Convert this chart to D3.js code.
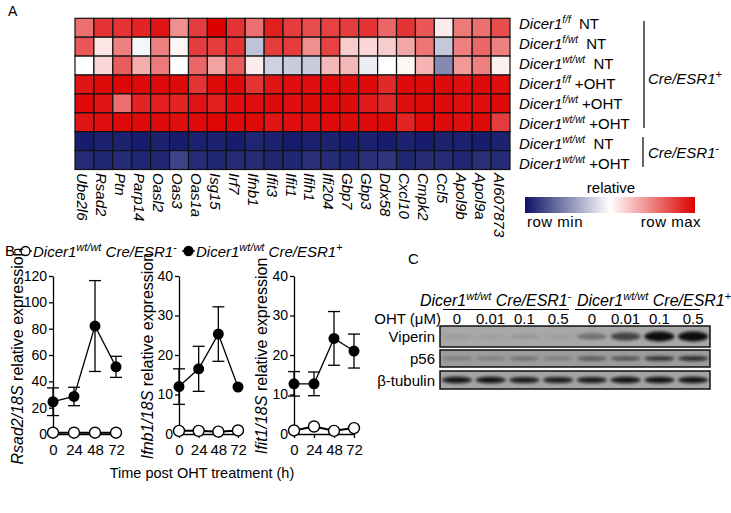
<!DOCTYPE html>
<meta charset="utf-8">
<style>
body { margin: 0; background: #fff; }
svg { font-family: "Liberation Sans", Arial, sans-serif; }
.it { font-style: italic; }
</style>
<svg width="731" height="513"></svg>
<script src="https://cdn.jsdelivr.net/npm/d3@7"></script>
<script>
// ---- panel A data ----
var genes = ["Ube2l6","Rsad2","Ptn","Parp14","Oasl2","Oas3","Oas1a","Isg15","Irf7","Ifnb1","Ifit3","Ifit1",
  "Ifih1","Ifi204","Gbp7","Gbp3","Ddx58","Cxcl10","Cmpk2","Ccl5","Apol9b","Apol9a","AI607873"];
var rowGenotype = ["f/f","f/wt","wt/wt","f/f","f/wt","wt/wt","wt/wt","wt/wt"];
var rowTreatment = ["NT","NT","NT","+OHT","+OHT","+OHT","NT","+OHT"];
// relative expression, 0 = row min, 1 = row max
var heat = [
  [0.78,0.9,0.9,0.93,0.96,0.72,0.88,1.0,0.9,0.78,0.94,0.88,0.85,0.87,0.88,0.9,0.8,0.9,0.83,0.54,0.76,0.78,0.85],
  [0.83,0.55,0.75,0.48,0.75,0.52,0.88,0.88,0.9,0.37,0.88,0.88,0.72,0.87,0.6,0.58,0.6,0.67,0.77,0.38,0.75,0.8,0.75],
  [0.5,0.58,0.82,0.66,0.76,0.5,0.8,0.68,0.82,0.54,0.4,0.39,0.39,0.64,0.64,0.46,0.5,0.52,0.65,0.25,0.7,0.75,0.53],
  [0.96,0.98,0.99,0.98,0.98,0.98,0.9,0.98,0.98,0.9,0.96,0.97,0.97,0.98,0.98,0.98,0.92,0.98,0.98,0.98,0.97,0.98,0.97],
  [0.98,0.96,0.78,0.93,0.94,0.93,0.96,0.94,0.97,0.97,0.98,0.97,0.98,0.98,0.98,0.95,0.92,0.97,0.98,0.98,0.97,0.97,0.98],
  [0.96,0.97,0.98,0.98,0.98,0.97,0.98,0.99,0.98,0.98,0.96,0.97,0.97,0.98,0.98,0.98,0.98,0.93,0.98,0.98,0.97,0.98,0.88],
  [0.02,0.03,0.03,0.02,0.03,0.02,0.03,0.03,0.02,0.04,0.03,0.02,0.03,0.03,0.02,0.03,0.02,0.03,0.02,0.03,0.03,0.02,0.03],
  [0.05,0.04,0.05,0.04,0.04,0.1,0.05,0.04,0.05,0.05,0.04,0.04,0.06,0.05,0.04,0.06,0.07,0.04,0.05,0.05,0.04,0.06,0.05]
];

// ---- panel B data ----
var hours = [0, 24, 48, 72];
var rsad2Pos = [24.5, 28.5, 82, 51], rsad2PosErr = [10.5, 7, 34.5, 8];
var rsad2Neg = [1, 1, 1, 1];
var ifnb1Pos = [12, 16.5, 25.3, 11.9], ifnb1PosErr = [4.5, 5.7, 6.9, 0];
var ifnb1Neg = [0.8, 0.8, 0.6, 0.9];
var ifit1Pos = [12.7, 12.7, 24.2, 21], ifit1PosErr = [3.1, 3, 6.8, 4.3];
var ifit1Neg = [0.9, 1.9, 0.8, 1.5];

// ---- panel C data ----
var ohtDose = ["0","0.01","0.1","0.5","0","0.01","0.1","0.5"];
var viperin = [0.08,0.06,0.1,0.06,0.35,0.65,1,1];
var p56 = [0.25,0.25,0.35,0.25,0.5,0.55,0.75,0.8];
var tubulin = [0.95,0.95,0.9,0.9,0.9,0.95,0.95,0.95];

var svg = d3.select("svg");
var color = d3.scaleLinear().domain([0, 0.5, 1]).range(["#0d1466", "#ffffff", "#dd0000"]);

// ================= A =================
svg.append("text").attr("x", 8).attr("y", 16).style("font-size", "14px").text("A");

var hx = d3.scaleBand().domain(genes).range([75, 510]);
var hy = d3.scaleBand().domain(d3.range(8)).range([18.3, 169.5]);

var rows = svg.append("g").selectAll("g").data(heat).enter().append("g");
rows.selectAll("rect")
  .data(function(d, i) { return d.map(function(v, j) { return {v: v, g: genes[j], r: i}; }); })
  .enter().append("rect")
  .attr("x", function(d) { return hx(d.g); })
  .attr("y", function(d) { return hy(d.r); })
  .attr("width", hx.bandwidth())
  .attr("height", hy.bandwidth())
  .attr("fill", function(d) { return color(d.v); })
  .attr("stroke", "#111")
  .attr("stroke-width", 1.2);

// gene labels, rotated
svg.append("g").selectAll("text").data(genes).enter().append("text")
  .attr("class", "it")
  .attr("transform", function(d) { return "translate(" + (hx(d) + hx.bandwidth() / 2 - 7) + ",173) rotate(90)"; })
  .style("font-size", "15px")
  .text(function(d) { return d; });

// row labels
var rl = svg.append("g").selectAll("text").data(rowGenotype).enter().append("text")
  .attr("x", 519)
  .attr("y", function(d, i) { return 29 + i * 20; })
  .style("font-size", "15px");
rl.append("tspan").attr("class", "it").text("Dicer1");
rl.append("tspan").attr("class", "it").attr("dy", -6).style("font-size", "10px").text(function(d) { return d; });
rl.append("tspan").attr("dy", 6).text(function(d, i) { return (rowTreatment[i] == "NT" ? "\u00a0\u00a0" : "\u00a0") + rowTreatment[i]; });

// group brackets
var groups = [{name: "Cre/ESR1", sign: "+", y1: 21, y2: 128, ty: 84},
              {name: "Cre/ESR1", sign: "-", y1: 137, y2: 167, ty: 158}];
groups.forEach(function(g, i) {
  svg.append("line").attr("x1", 644 - i).attr("x2", 644 - i).attr("y1", g.y1).attr("y2", g.y2)
    .attr("stroke", "#000").attr("stroke-width", 1.2);
  var t = svg.append("text").attr("x", 648).attr("y", g.ty).style("font-size", "15px");
  t.append("tspan").attr("class", "it").text(g.name);
  t.append("tspan").attr("dy", -6).style("font-size", "11px").text(g.sign);
});

// colour legend
var defs = svg.append("defs");
var grad = defs.append("linearGradient").attr("id", "rel");
[0, 0.5, 1].forEach(function(s) {
  grad.append("stop").attr("offset", s * 100 + "%").attr("stop-color", color(s));
});
svg.append("rect").attr("x", 525).attr("y", 197).attr("width", 170).attr("height", 16).attr("fill", "url(#rel)");
svg.append("text").attr("x", 611).attr("y", 193).attr("text-anchor", "middle").style("font-size", "15px").text("relative");
svg.append("text").attr("x", 527).attr("y", 227).style("font-size", "15px").style("letter-spacing", "0.5px").text("row min");
svg.append("text").attr("x", 701).attr("y", 227).attr("text-anchor", "end").style("font-size", "15px").style("letter-spacing", "0.5px").text("row max");

// ================= B =================
svg.append("text").attr("x", 5).attr("y", 256).style("font-size", "15px").text("B");

// legend
function legendItem(x, filled, sign) {
  svg.append("line").attr("x1", x).attr("x2", x + 13).attr("y1", 251).attr("y2", 251).attr("stroke", "#000").attr("stroke-width", 1.3);
  svg.append("circle").attr("cx", x + 6.5).attr("cy", 251).attr("r", 4.5)
    .attr("fill", filled ? "#000" : "#fff").attr("stroke", "#000").attr("stroke-width", 1.3);
  var t = svg.append("text").attr("x", x + 14).attr("y", 257).style("font-size", "15px");
  t.append("tspan").attr("class", "it").text("Dicer1");
  t.append("tspan").attr("class", "it").attr("dy", -6).style("font-size", "11px").text("wt/wt");
  t.append("tspan").attr("class", "it").attr("dy", 6).text("\u00a0Cre/ESR1");
  t.append("tspan").attr("dy", -6).style("font-size", "11px").text(sign);
}
legendItem(19, false, "-");
legendItem(182, true, "+");

var charts = [
  {gene: "Rsad2", x0: 53, x1: 116, max: 120, step: 20, pos: rsad2Pos, err: rsad2PosErr, neg: rsad2Neg, lx: 23},
  {gene: "Ifnb1", x0: 179, x1: 238, max: 40, step: 10, pos: ifnb1Pos, err: ifnb1PosErr, neg: ifnb1Neg, lx: 153},
  {gene: "Ifit1", x0: 294, x1: 354, max: 40, step: 10, pos: ifit1Pos, err: ifit1PosErr, neg: ifit1Neg, lx: 267}
];

charts.forEach(function(c) {
  var x = d3.scaleLinear().domain([0, 72]).range([c.x0, c.x1]);
  var y = d3.scaleLinear().domain([0, c.max]).range([434, 276]);
  var g = svg.append("g");

  var ya = g.append("g").attr("transform", "translate(" + c.x0 + ",0)")
    .call(d3.axisLeft(y).tickValues(d3.range(0, c.max + 1, c.step)).tickSize(4).tickPadding(2).tickSizeOuter(0));
  ya.selectAll("text").style("font-size", "14px").style("font-family", "Liberation Sans, Arial, sans-serif").attr("fill", "#000");
  var xa = g.append("g").attr("transform", "translate(0,434)")
    .call(d3.axisBottom(x).tickValues(hours).tickSize(4).tickPadding(6).tickSizeOuter(0));
  xa.selectAll("text").style("font-size", "15px").style("font-family", "Liberation Sans, Arial, sans-serif").attr("fill", "#000");
  g.selectAll(".domain, .tick line").attr("stroke", "#000").attr("stroke-width", 1.3);

  var line = d3.line().x(function(d, i) { return x(hours[i]); }).y(function(d) { return y(d); });

  // error bars for Cre+
  c.pos.forEach(function(v, i) {
    if (c.err[i] <= 0) return;
    var cx = x(hours[i]);
    g.append("line").attr("x1", cx).attr("x2", cx).attr("y1", y(v - c.err[i])).attr("y2", y(v + c.err[i])).attr("stroke", "#000").attr("stroke-width", 1.3);
    [v - c.err[i], v + c.err[i]].forEach(function(e) {
      g.append("line").attr("x1", cx - 6).attr("x2", cx + 6).attr("y1", y(e)).attr("y2", y(e)).attr("stroke", "#000").attr("stroke-width", 1.3);
    });
  });

  g.append("path").datum(c.neg).attr("d", line).attr("fill", "none").attr("stroke", "#000").attr("stroke-width", 2);
  g.append("path").datum(c.pos).attr("d", line).attr("fill", "none").attr("stroke", "#000").attr("stroke-width", 1.3);

  g.selectAll(".neg").data(c.neg).enter().append("circle")
    .attr("cx", function(d, i) { return x(hours[i]); }).attr("cy", function(d) { return y(d); })
    .attr("r", 5.5).attr("fill", "#fff").attr("stroke", "#000").attr("stroke-width", 1.4);
  g.selectAll(".pos").data(c.pos).enter().append("circle")
    .attr("cx", function(d, i) { return x(hours[i]); }).attr("cy", function(d) { return y(d); })
    .attr("r", 5.5).attr("fill", "#000");

  var t = g.append("text").attr("transform", "translate(" + c.lx + ",356) rotate(-90)")
    .attr("text-anchor", "middle").style("font-size", "16px");
  t.append("tspan").attr("class", "it").text(c.gene + "/18S");
  t.append("tspan").text(" relative expression");
});

svg.append("text").attr("x", 202).attr("y", 478).attr("text-anchor", "middle").style("font-size", "14.5px").text("Time post OHT treatment (h)");

// ================= C =================
svg.append("text").attr("x", 408).attr("y", 264).style("font-size", "15px").text("C");

var lx = d3.scaleBand().domain(d3.range(8)).range([440, 710]);

[{x: 420, sign: "-", u1: 443, u2: 569}, {x: 577, sign: "+", u1: 575, u2: 700}].forEach(function(h) {
  var t = svg.append("text").attr("x", h.x).attr("y", 306).style("font-size", "16px");
  t.append("tspan").attr("class", "it").text("Dicer1");
  t.append("tspan").attr("class", "it").attr("dy", -6).style("font-size", "11px").text("wt/wt");
  t.append("tspan").attr("class", "it").attr("dy", 6).text("\u00a0Cre/ESR1");
  t.append("tspan").attr("dy", -6).style("font-size", "11px").text(h.sign);
  svg.append("line").attr("x1", h.u1).attr("x2", h.u2).attr("y1", 309.5).attr("y2", 309.5).attr("stroke", "#000").attr("stroke-width", 1);
});

svg.append("text").attr("x", 441).attr("y", 324).attr("text-anchor", "end").style("font-size", "15px").text("OHT (\u03bcM)");
svg.append("g").selectAll("text").data(ohtDose).enter().append("text")
  .attr("x", function(d, i) { return lx(i) + lx.bandwidth() / 2; })
  .attr("y", 324).attr("text-anchor", "middle").style("font-size", "15px")
  .text(function(d) { return d; });

defs.append("filter").attr("id", "blur").attr("x", "-50%").attr("y", "-100%").attr("width", "200%").attr("height", "300%")
  .append("feGaussianBlur").attr("stdDeviation", 1.4);

var blots = [
  {name: "Viperin", vals: viperin, y: 326, h: 21, by: 336.5, bh: 10, bg: "#a8a8a8"},
  {name: "p56", vals: p56, y: 350, h: 17, by: 358.5, bh: 5.5, bg: "#9c9c9c"},
  {name: "\u03b2-tubulin", vals: tubulin, y: 371, h: 18, by: 380, bh: 6.5, bg: "#a4a4a4"}
];
blots.forEach(function(b) {
  var g = svg.append("g");
  g.append("rect").attr("x", 440).attr("y", b.y).attr("width", 270).attr("height", b.h).attr("fill", b.bg);
  g.selectAll("ellipse").data(b.vals).enter().append("ellipse")
    .attr("cx", function(d, i) { return lx(i) + lx.bandwidth() / 2; })
    .attr("cy", b.by)
    .attr("rx", 15)
    .attr("ry", function(d) { return b.bh * (0.45 + 0.55 * d) / 2; })
    .attr("fill", "#0a0a0a")
    .attr("opacity", function(d) { return d; })
    .attr("filter", "url(#blur)");
  g.append("rect").attr("x", 440).attr("y", b.y).attr("width", 270).attr("height", b.h)
    .attr("fill", "none").attr("stroke", "#111").attr("stroke-width", 1.5);
  svg.append("text").attr("x", 435).attr("y", b.y + b.h / 2 + 5.5).attr("text-anchor", "end").style("font-size", "15px").text(b.name);
});
</script>
